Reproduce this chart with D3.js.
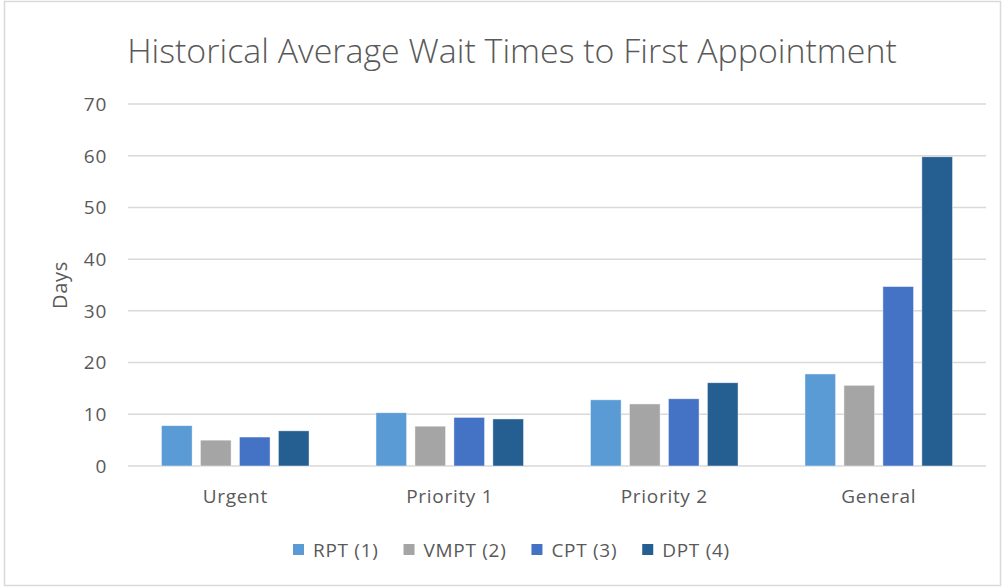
<!DOCTYPE html>
<html lang="en">
<head>
<meta charset="utf-8">
<title>Historical Average Wait Times</title>
<script src="https://d3js.org/d3.v7.min.js"></script>
<style>
  body { margin: 0; background: white; }
  text { font-family: "Open Sans", sans-serif; fill: #595959; }
  .lbl { letter-spacing: 0.7px; }
</style>
</head>
<body>
<div id="chart"></div>
<script>
// data
var categories = ["Urgent", "Priority 1", "Priority 2", "General"];
var seriesNames = ["RPT (1)", "VMPT (2)", "CPT (3)", "DPT (4)"];
var rpt  = [7.8, 10.3, 12.8, 17.8];
var vmpt = [5.0, 7.7, 12.0, 15.6];
var cpt  = [5.6, 9.4, 13.0, 34.7];
var dpt  = [6.8, 9.1, 16.1, 59.8];
var yTicks = [0, 10, 20, 30, 40, 50, 60, 70];
var colors = ["#5B9BD5", "#A5A5A5", "#4472C4", "#255E91"];

var seriesValues = [rpt, vmpt, cpt, dpt];

// layout
var w = 1003, h = 587;
var plotLeft = 128, plotRight = 986, plotTop = 104, plotBottom = 466;

var svg = d3.select("#chart").append("svg")
    .attr("width", w).attr("height", h);

// chart border
svg.append("rect")
    .attr("x", 4.5).attr("y", 1.5)
    .attr("width", w - 7).attr("height", h - 3)
    .attr("fill", "white")
    .attr("stroke", "#d9d9d9")
    .attr("stroke-width", 1.5);

var y = d3.scaleLinear().domain([0, 70]).range([plotBottom, plotTop]);
var x0 = d3.scaleBand().domain(categories).range([plotLeft, plotRight])
    .paddingInner(0.312).paddingOuter(0.156);
var x1 = d3.scaleBand().domain(seriesNames).range([0, x0.bandwidth()])
    .paddingInner(0.213);

// gridlines
svg.append("g").selectAll("line")
    .data(yTicks)
    .enter().append("line")
    .attr("x1", plotLeft).attr("x2", plotRight)
    .attr("y1", function(d) { return y(d); })
    .attr("y2", function(d) { return y(d); })
    .attr("stroke", "#d9d9d9")
    .attr("stroke-width", 1.5);

// y tick labels
svg.append("g").selectAll("text")
    .data(yTicks)
    .enter().append("text")
    .attr("class", "lbl")
    .attr("x", 107)
    .attr("y", function(d) { return y(d); })
    .attr("dy", "0.36em")
    .attr("text-anchor", "end")
    .style("font-size", "19px")
    .text(function(d) { return d; });

// y axis title
svg.append("text")
    .attr("class", "lbl")
    .attr("transform", "translate(67,285) rotate(-90)")
    .attr("text-anchor", "middle")
    .style("font-size", "20px")
    .text("Days");

// bars
var groups = svg.append("g").selectAll("g")
    .data(categories)
    .enter().append("g")
    .attr("transform", function(d) { return "translate(" + x0(d) + ",0)"; });

groups.selectAll("rect")
    .data(function(c, i) {
        return seriesNames.map(function(s, j) { return {s: s, v: seriesValues[j][i], j: j}; });
    })
    .enter().append("rect")
    .attr("x", function(d) { return x1(d.s); })
    .attr("y", function(d) { return y(d.v); })
    .attr("width", x1.bandwidth())
    .attr("height", function(d) { return y(0) - y(d.v); })
    .attr("fill", function(d) { return colors[d.j]; })
    .attr("stroke", "rgba(255,255,255,0.6)")
    .attr("stroke-width", 0.75);

// category labels
svg.append("g").selectAll("text")
    .data(categories)
    .enter().append("text")
    .attr("class", "lbl")
    .attr("x", function(d) { return x0(d) + x0.bandwidth() / 2; })
    .attr("y", 503)
    .attr("text-anchor", "middle")
    .style("font-size", "19px")
    .text(function(d) { return d; });

// title, fitted to the reference width
var title = svg.append("text")
    .attr("x", 512).attr("y", 63)
    .attr("text-anchor", "middle")
    .style("font-size", "32px")
    .style("font-weight", "300")
    .text("Historical Average Wait Times to First Appointment");
var tw = title.node().getComputedTextLength();
title.style("font-size", (32 * 770 / tw) + "px");

// legend
var legend = svg.append("g");
var lx = 293;
seriesNames.forEach(function(s, i) {
    legend.append("rect")
        .attr("x", lx).attr("y", 544)
        .attr("width", 11).attr("height", 11)
        .attr("fill", colors[i]);
    var t = legend.append("text")
        .attr("class", "lbl")
        .attr("x", lx + 20).attr("y", 557)
        .style("font-size", "19px")
        .text(s);
    lx += 20 + t.node().getComputedTextLength() + 25;
});
</script>
</body>
</html>
